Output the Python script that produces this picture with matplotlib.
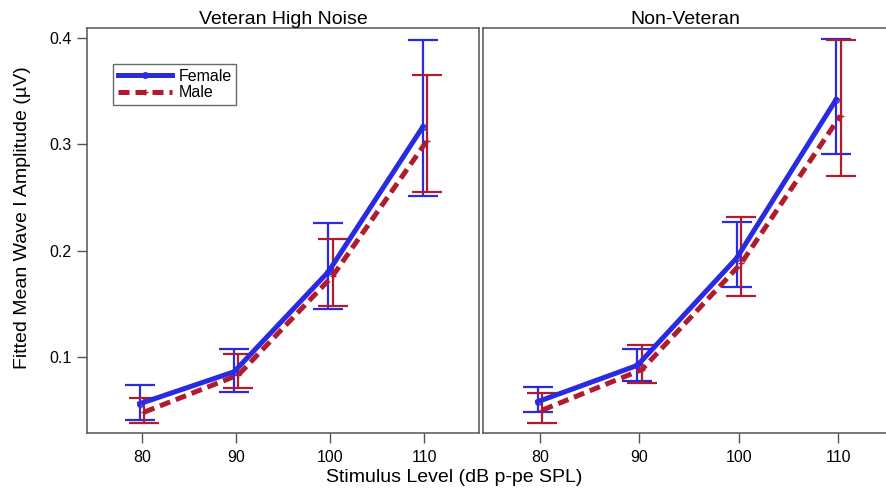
import numpy as np
import matplotlib.pyplot as plt

plt.rcParams['font.family'] = ['Liberation Sans', 'DejaVu Sans']

levels = [80, 90, 100, 110]
panels = ['Veteran High Noise', 'Non-Veteran']

# Veteran High Noise
vet_f = [0.056, 0.086, 0.180, 0.316]
vet_f_lo = [0.041, 0.067, 0.145, 0.251]
vet_f_hi = [0.074, 0.107, 0.226, 0.398]
vet_m = [0.048, 0.083, 0.176, 0.303]
vet_m_lo = [0.038, 0.071, 0.148, 0.255]
vet_m_hi = [0.061, 0.103, 0.211, 0.365]

# Non-Veteran
non_f = [0.058, 0.092, 0.193, 0.342]
non_f_lo = [0.048, 0.077, 0.166, 0.291]
non_f_hi = [0.072, 0.107, 0.227, 0.399]
non_m = [0.050, 0.088, 0.188, 0.327]
non_m_lo = [0.038, 0.075, 0.157, 0.270]
non_m_hi = [0.066, 0.111, 0.232, 0.398]

blue = '#2a2ae0'
red = '#b01c2e'
edge = '#555555'

fig = plt.figure(figsize=(8.87, 4.92), dpi=100)
ax1 = fig.add_axes([0.0981, 0.1199, 0.4420, 0.8232])
ax2 = fig.add_axes([0.5445, 0.1199, 0.4555, 0.8232])

data = [
    (vet_f, vet_f_lo, vet_f_hi, vet_m, vet_m_lo, vet_m_hi),
    (non_f, non_f_lo, non_f_hi, non_m, non_m_lo, non_m_hi),
]
xlims = [(74.19, 115.8), (74.26, 114.93)]

x = np.array(levels, dtype=float)
for ax, title, d, xl in zip([ax1, ax2], panels, data, xlims):
    f, flo, fhi, m, mlo, mhi = [np.array(v) for v in d]
    xf = x - 0.2
    xm = x + 0.25
    ax.errorbar(xf, f, yerr=[f - flo, fhi - f], fmt='none', ecolor=blue,
                elinewidth=1.6, capsize=11, capthick=1.6, zorder=2)
    ax.errorbar(xm, m, yerr=[m - mlo, mhi - m], fmt='none', ecolor=red,
                elinewidth=1.6, capsize=11, capthick=1.6, zorder=2)
    ax.plot(xm, m, color=red, lw=3.6, ls=(0, (2.2, 1.2)), marker='+', ms=5,
            mew=1, label='Male', zorder=3)
    ax.plot(xf, f, color=blue, lw=3.6, marker='o', ms=4, mfc='none', mew=1,
            label='Female', zorder=4)
    ax.set_xlim(*xl)
    ax.set_ylim(0.0284, 0.4094)
    ax.set_xticks(levels)
    ax.set_title(title, fontsize=14, pad=3)
    for s in ax.spines.values():
        s.set_color(edge)
        s.set_linewidth(1.1)
    ax.tick_params(axis='x', length=7, width=1, color=edge, labelsize=11.5, pad=5)

ax1.set_yticks([0.1, 0.2, 0.3, 0.4])
ax1.set_yticklabels(['0.1', '0.2', '0.3', '0.4'])
ax1.tick_params(axis='y', length=7, width=1, color=edge, labelsize=11.5, pad=4)
ax2.set_yticks([])
ax1.set_ylabel('Fitted Mean Wave I Amplitude (µV)', fontsize=14)
ax1.yaxis.set_label_coords(-0.143, 0.531)

h, l = ax1.get_legend_handles_labels()
leg = ax1.legend(h[::-1], l[::-1], loc='upper left', bbox_to_anchor=(0.066, 0.911),
                 borderaxespad=0, fancybox=False, fontsize=11.5, handlelength=3.4,
                 handletextpad=0.4, borderpad=0.3, labelspacing=0.1)
leg.get_frame().set_edgecolor('#444444')
leg.get_frame().set_linewidth(1)

fig.text(0.512, 0.012, 'Stimulus Level (dB p-pe SPL)', ha='center', va='bottom', fontsize=14)

fig.savefig('out.png', dpi=100)
